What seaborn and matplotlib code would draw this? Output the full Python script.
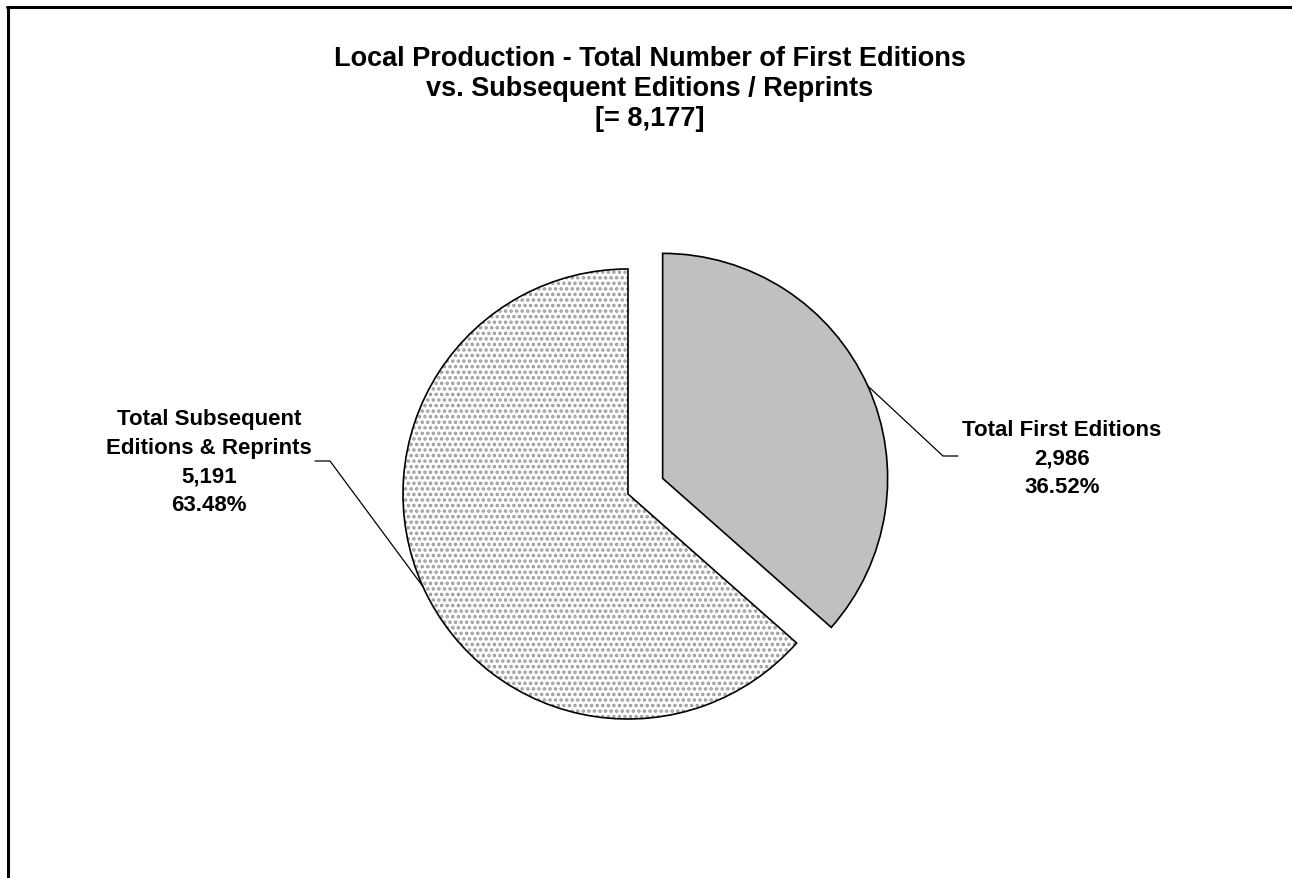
import matplotlib
matplotlib.use("Agg")
import matplotlib.pyplot as plt
from matplotlib.patches import Wedge
import numpy as np
import seaborn as sns

# data
labels = ["Total First Editions", "Total Subsequent\nEditions & Reprints"]
counts = [2986, 5191]
title_lines = [
    "Local Production - Total Number of First Editions",
    "vs. Subsequent Editions / Reprints",
    "[= 8,177]",
]

sns.set_theme(style="white")
plt.rcParams["font.family"] = ["Liberation Sans", "DejaVu Sans"]
plt.rcParams["text.color"] = "black"
plt.rcParams["hatch.color"] = "#9a9a9a"
plt.rcParams["hatch.linewidth"] = 1.7

W, H = 1292, 879
fig = plt.figure(figsize=(W / 100, H / 100), dpi=100)
ax = fig.add_axes([0, 0, 1, 1])
ax.set_xlim(0, W)
ax.set_ylim(0, H)
ax.axis("off")

center = (628, H - 495)
radius = 225
explode = [38, 0]
total = sum(counts)
pct = [100 * c / total for c in counts]

fills = ["#c0c0c0", "white"]
hatches = [None, "..."]

# slice angles, clockwise from 12 o'clock
angles = []
a = 90
for c in counts:
    span = 360 * c / total
    angles.append((a - span, a))
    a -= span

# text anchors are baselines of the last line
label_pos = [(1062, H - 493), (209, H - 511)]
elbows = [((943, H - 457), (958, H - 457)), ((330, H - 462), (315, H - 462))]

for i, ((t1, t2), col, h, ex) in enumerate(zip(angles, fills, hatches, explode)):
    mid = np.deg2rad((t1 + t2) / 2)
    cx = center[0] + ex * np.cos(mid)
    cy = center[1] + ex * np.sin(mid)
    ax.add_patch(Wedge((cx, cy), radius, t1, t2, facecolor=col,
                       edgecolor="#9a9a9a" if h else col, hatch=h, linewidth=0))
    ax.add_patch(Wedge((cx, cy), radius, t1, t2, fill=False,
                       edgecolor="black", linewidth=1.2))

    # leader line from slice edge to label
    px = cx + radius * np.cos(mid)
    py = cy + radius * np.sin(mid)
    (ex1, ey1), (ex2, ey2) = elbows[i]
    ax.plot([px, ex1, ex2], [py, ey1, ey2], color="black", linewidth=0.9)
    txt = f"{labels[i]}\n{counts[i]:,}\n{pct[i]:.2f}%"
    ax.text(label_pos[i][0], label_pos[i][1], txt, ha="center", va="baseline",
            fontsize=16, fontweight="bold", linespacing=1.47)

ax.text(650, H - 126, "\n".join(title_lines), ha="center", va="baseline",
        fontsize=19.5, fontweight="bold", linespacing=1.2)

# chart frame
ax.plot([8, 8], [0, H - 8], color="black", linewidth=2.2)
ax.plot([7, W], [H - 8, H - 8], color="black", linewidth=2.2)

fig.savefig("out.png", dpi=100)
